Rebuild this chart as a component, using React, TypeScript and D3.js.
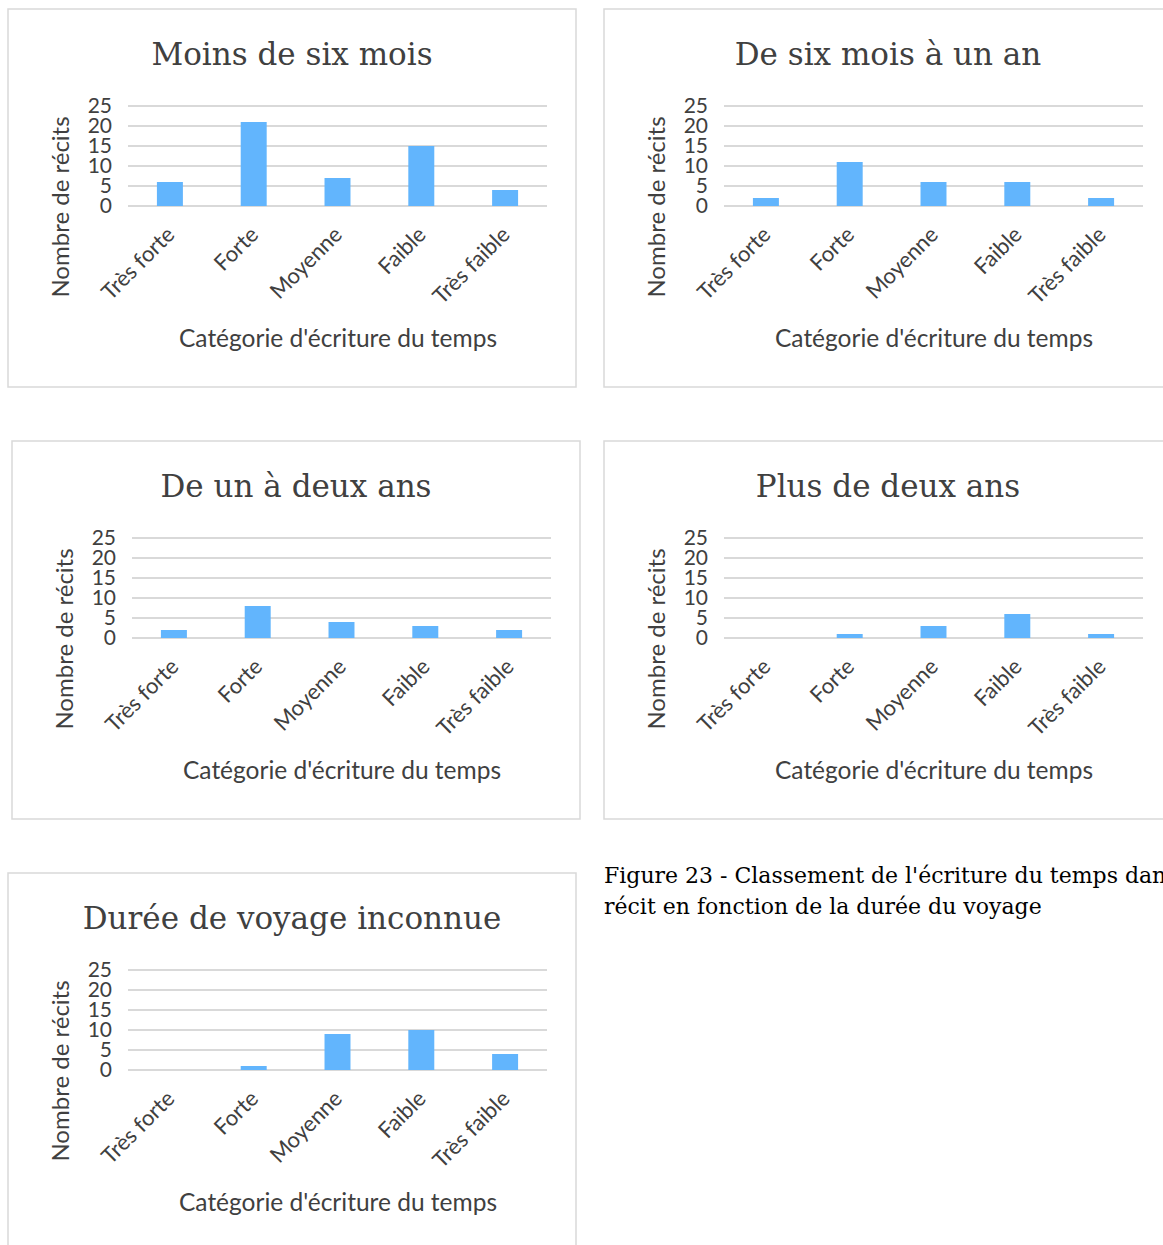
import React from "react";
import * as d3 from "d3";

const categories = ["Très forte", "Forte", "Moyenne", "Faible", "Très faible"];
const titles = ["Moins de six mois", "De six mois à un an", "De un à deux ans", "Plus de deux ans", "Durée de voyage inconnue"];
const valuesLess6m = [6, 21, 7, 15, 4];
const values6mTo1y = [2, 11, 6, 6, 2];
const values1To2y = [2, 8, 4, 3, 2];
const valuesMore2y = [0, 1, 3, 6, 1];
const valuesUnknown = [0, 1, 9, 10, 4];
const yTicks = [0, 5, 10, 15, 20, 25];
const yAxisTitle = "Nombre de récits";
const xAxisTitle = "Catégorie d'écriture du temps";
const captionLines = ["Figure 23 - Classement de l'écriture du temps dans le", "récit en fonction de la durée du voyage"];

const W = 1163;
const H = 1245;
const BOX_W = 568;
const BOX_H = 378;
const SANS = "Lato, 'Open Sans', sans-serif";
const SERIF = "'DejaVu Serif', serif";
const TEXT = "#404040";
const GRID = "#d9d9d9";
const BAR = "#62b5fd";

function Panel({ x, y, title, values, boxH = BOX_H }: { x: number; y: number; title: string; values: number[]; boxH?: number }) {
  const x0 = x + 120;
  const x1 = x + 539;
  const yScale = d3.scaleLinear().domain([0, 25]).range([y + 197, y + 97]);
  const xScale = d3.scaleBand<string>().domain(categories).range([x0, x1]).paddingInner(0.69).paddingOuter(0.345);
  const band = d3.scaleBand<string>().domain(categories).range([x0, x1]);
  const y0 = yScale(0);
  return (
    <g>
      <rect x={x} y={y} width={BOX_W} height={boxH} fill="#fff" stroke={GRID} strokeWidth={1.5} />
      <text x={x + 284} y={y + 56} textAnchor="middle" fontFamily={SERIF} fontSize={31} fill={TEXT}>
        {title}
      </text>
      {yTicks.map((t) => (
        <g key={t}>
          <line x1={x0} x2={x1} y1={yScale(t)} y2={yScale(t)} stroke={GRID} strokeWidth={2} />
          <text x={x0 - 16} y={yScale(t)} dy="0.35em" textAnchor="end" fontFamily={SANS} fontSize={21} fill={TEXT}>
            {t}
          </text>
        </g>
      ))}
      {values.map((v, i) =>
        v > 0 ? (
          <rect
            key={i}
            x={xScale(categories[i])!}
            y={yScale(v)}
            width={xScale.bandwidth()}
            height={y0 - yScale(v)}
            fill={BAR}
          />
        ) : null
      )}
      {categories.map((c) => {
        const cx = band(c)! + band.bandwidth() / 2;
        const ax = cx + 6;
        const ay = y0 + 30;
        return (
          <text key={c} x={ax} y={ay} transform={`rotate(-45 ${ax} ${ay})`} textAnchor="end" fontFamily={SANS} fontSize={22} fill={TEXT}>
            {c}
          </text>
        );
      })}
      <text
        x={x + 53}
        y={y + 198}
        transform={`rotate(-90 ${x + 53} ${y + 198})`}
        textAnchor="middle"
        dy="0.35em"
        fontFamily={SANS}
        fontSize={24}
        fill={TEXT}
      >
        {yAxisTitle}
      </text>
      <text x={x + 330} y={y + 338} textAnchor="middle" fontFamily={SANS} fontSize={24.5} fill={TEXT}>
        {xAxisTitle}
      </text>
    </g>
  );
}

export default function App() {
  return (
    <svg width={W} height={H} style={{ position: "absolute", left: 0, top: 0, background: "#fff" }}>
      <rect x={0} y={0} width={W} height={H} fill="#fff" />
      <Panel x={8} y={9} title={titles[0]} values={valuesLess6m} />
      <Panel x={604} y={9} title={titles[1]} values={values6mTo1y} />
      <Panel x={12} y={441} title={titles[2]} values={values1To2y} />
      <Panel x={604} y={441} title={titles[3]} values={valuesMore2y} />
      <Panel x={8} y={873} title={titles[4]} values={valuesUnknown} />
      {captionLines.map((l, i) => (
        <text key={i} x={604} y={883 + i * 31} fontFamily={SERIF} fontSize={22} fill="#000">
          {l}
        </text>
      ))}
    </svg>
  );
}
